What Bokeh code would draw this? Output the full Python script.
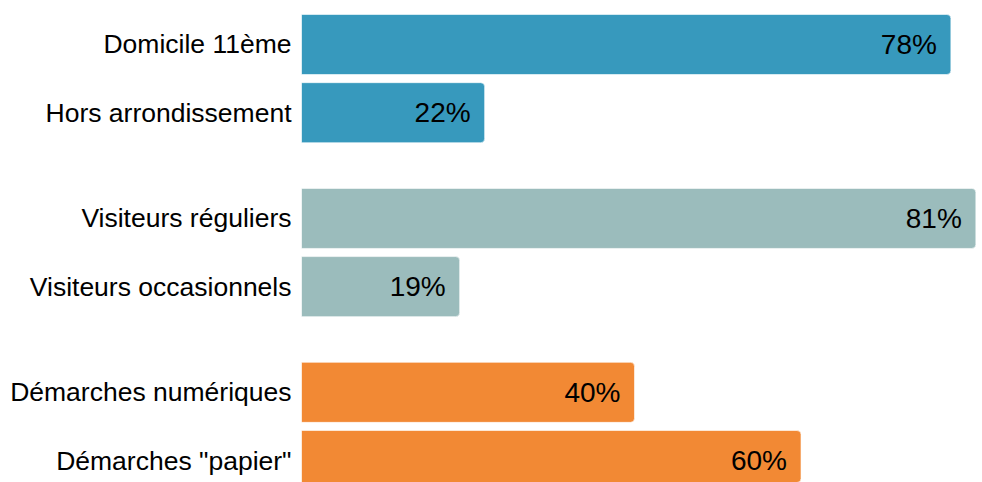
from bokeh.plotting import figure
from bokeh.models import Range1d, FixedTicker, ColumnDataSource
from bokeh.embed import file_html
from bokeh.resources import INLINE
from bokeh.core.properties import value

# Data
categories = ["Domicile 11ème", "Hors arrondissement",
              "Visiteurs réguliers", "Visiteurs occasionnels",
              "Démarches numériques", "Démarches \"papier\""]
groups = [0, 0, 1, 1, 2, 2]
percents = [78, 22, 81, 19, 40, 60]
labels = ["78%", "22%", "81%", "19%", "40%", "60%"]
group_colors = ["#3799bd", "#9bbcbc", "#f28934"]

# Layout (row positions with extra gap between groups)
GROUP_GAP = 0.55
positions = [i + GROUP_GAP * g for i, g in enumerate(groups)]
colors = [group_colors[g] for g in groups]

src = ColumnDataSource(dict(y=positions, right=percents, color=colors,
                            label=labels))

p = figure(width=982, height=482, output_backend="svg", toolbar_location=None,
           x_range=Range1d(0, 81.8), y_range=Range1d(6.422, -0.645),
           min_border_left=301, min_border_right=0, min_border_top=0,
           min_border_bottom=0)

p.hbar(y="y", left=0, right="right", height=0.88, source=src,
       fill_color="color", line_color="white", line_alpha=0.6, line_width=1,
       border_radius=(0, 4, 4, 0))

p.text(x="right", y="y", text="label", source=src, x_offset=-14,
       text_align="right", text_baseline="middle", text_font_size="28px",
       text_font=value("Liberation Sans"), text_color="#000000")

p.xaxis.visible = False
p.yaxis.ticker = FixedTicker(ticks=positions)
p.yaxis.major_label_overrides = {pos: cat for pos, cat in zip(positions, categories)}
p.yaxis.major_label_text_font = "Liberation Sans"
p.yaxis.major_label_text_font_size = "26.5px"
p.yaxis.major_label_text_color = "#000000"
p.yaxis.major_label_standoff = 4
p.yaxis.axis_line_color = None
p.yaxis.major_tick_line_color = None
p.yaxis.minor_tick_line_color = None

p.xgrid.visible = False
p.ygrid.visible = False
p.outline_line_color = None
p.background_fill_color = "white"
p.border_fill_color = "white"

open("out.html", "w").write(file_html(p, INLINE))
